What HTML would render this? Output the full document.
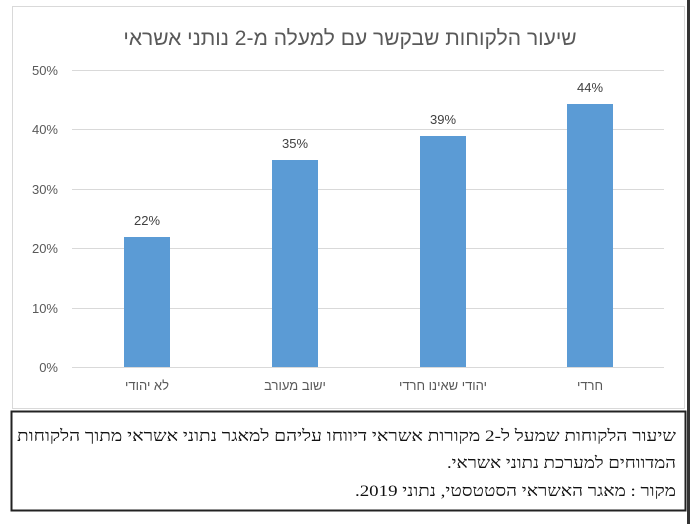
<!DOCTYPE html>
<html><head><meta charset="utf-8"><style>
body{margin:0;width:699px;height:524px;background:#fff;overflow:hidden;position:relative;font-family:"Liberation Sans","Noto Sans CJK SC",sans-serif}
</style></head><body>
<div style="position:absolute;left:12px;top:6px;width:671px;height:401px;border:1px solid #d9d9d9"></div>
<div style="position:absolute;left:687px;top:0;width:3px;height:524px;background:#333"></div>
<svg width="699" height="524" style="position:absolute;left:0;top:0" font-family="Liberation Sans, DejaVu Sans, sans-serif">
<g stroke="#d9d9d9" stroke-width="1">
<line x1="72" x2="664" y1="70.5" y2="70.5"/><line x1="72" x2="664" y1="129.5" y2="129.5"/>
<line x1="72" x2="664" y1="189.5" y2="189.5"/><line x1="72" x2="664" y1="248.5" y2="248.5"/>
<line x1="72" x2="664" y1="308.5" y2="308.5"/><line x1="72" x2="664" y1="367.5" y2="367.5"/>
</g>
<g font-size="13" fill="#595959" text-anchor="end">
<text x="58" y="75">50%</text><text x="58" y="134">40%</text><text x="58" y="194">30%</text>
<text x="58" y="253">20%</text><text x="58" y="313">10%</text><text x="58" y="372">0%</text>
</g>
<g fill="#5b9bd5">
<rect x="124" y="237" width="46" height="130"/>
<rect x="272" y="160" width="46" height="207"/>
<rect x="420" y="136" width="46" height="231"/>
<rect x="567" y="104" width="46" height="263"/>
</g>
<g font-size="13" fill="#404040" text-anchor="middle">
<text x="147" y="225">22%</text><text x="295" y="148">35%</text>
<text x="443" y="124">39%</text><text x="590" y="92">44%</text>
</g>
<g font-size="13" fill="#595959" text-anchor="middle" font-family="Liberation Sans, Noto Sans CJK SC, sans-serif">
<text x="147" y="390">לא יהודי</text><text x="295" y="390">ישוב מעורב</text>
<text x="443" y="390">יהודי שאינו חרדי</text><text x="590" y="390">חרדי</text>
</g>
<text x="350" y="45" font-size="21" fill="#595959" text-anchor="middle" font-family="Liberation Sans, Noto Sans CJK SC, sans-serif">שיעור הלקוחות שבקשר עם למעלה מ-2 נותני אשראי</text>
<rect x="11.5" y="411.5" width="674" height="99" fill="none" stroke="#222" stroke-width="2"/>
<g font-size="16" fill="#111" font-family="Liberation Serif, Noto Serif CJK SC, serif" direction="rtl" text-anchor="start" lengthAdjust="spacingAndGlyphs">
<text x="676" y="441" direction="rtl" textLength="659" lengthAdjust="spacingAndGlyphs">שיעור הלקוחות שמעל ל-2 מקורות אשראי דיווחו עליהם למאגר נתוני אשראי מתוך הלקוחות</text>
<text x="676" y="468" direction="rtl" textLength="229" lengthAdjust="spacingAndGlyphs">המדווחים למערכת נתוני אשראי.</text>
<text x="676" y="496" direction="rtl" textLength="321" lengthAdjust="spacingAndGlyphs">מקור : מאגר האשראי הסטטסטי, נתוני 2019.</text>
</g>
</svg>
</body></html>
